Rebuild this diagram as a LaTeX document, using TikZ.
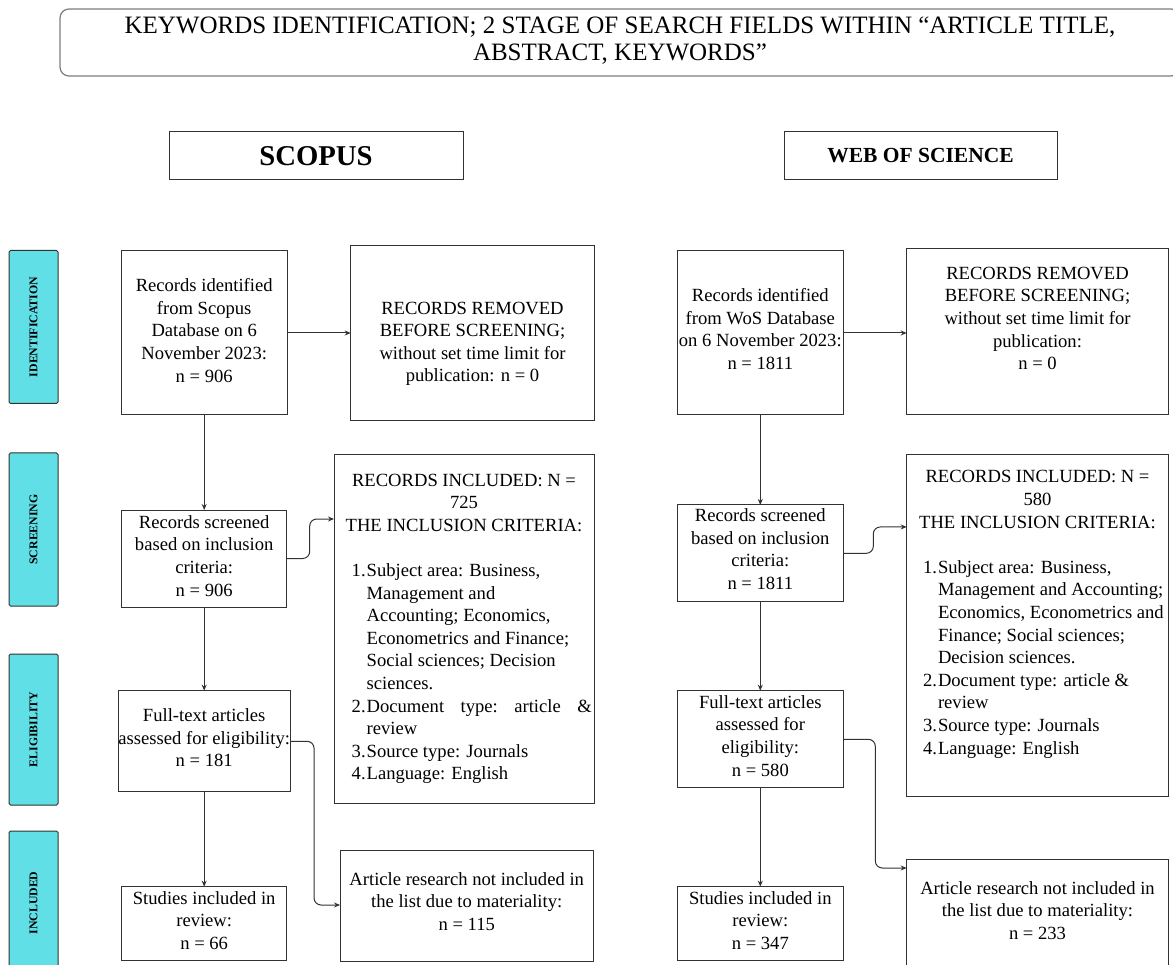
\documentclass[tikz,border=0pt]{standalone}
\usepackage{fontspec}
\setmainfont{Liberation Serif}
\usetikzlibrary{arrows.meta,calc}
\definecolor{sidecyan}{RGB}{96,224,230}
\definecolor{edgecol}{RGB}{50,50,50}
\definecolor{titleedge}{RGB}{125,125,125}
\newcommand\bt[4]{\parbox[c][#2][t]{#1}{\centering\vspace*{\dimexpr#3-15.82pt\relax}\strut#4\par}}
\newcommand\li[3]{\par\noindent\hspace*{#1}\makebox[15pt][l]{#2}#3}
\newcommand\lc[2]{\par\noindent\hspace*{#1}#2}
\begin{document}
\begin{tikzpicture}[x=1pt,y=-1pt,
  box/.style={draw=edgecol, line width=1pt, inner sep=0pt, outer sep=0pt, font=\fontsize{18.6}{22.6}\selectfont},
  side/.style={draw=edgecol, fill=sidecyan, line width=1pt, rounded corners=1.5pt, rotate=90, inner sep=0pt, font=\fontsize{11.8}{13}\selectfont\bfseries},
  arr/.style={draw=edgecol, line width=1pt, -{Stealth[length=6pt,width=5pt]}}]
\useasboundingbox (0,0) rectangle (1173,965);

% title
\node[draw=titleedge, rounded corners=9pt, line width=1.2pt, inner sep=0pt, font=\fontsize{25}{27.5}\selectfont] (title) at (620,42.5) {\parbox[c][67pt][t]{1120pt}{\centering\vspace*{5pt}\strut KEYWORDS IDENTIFICATION; 2 STAGE OF SEARCH FIELDS WITHIN “ARTICLE TITLE,\\ABSTRACT, KEYWORDS”\par}};

\node[box, minimum width=294pt, minimum height=48pt, font=\fontsize{28.7}{30}\selectfont\bfseries] (scopus) at (316,156) {SCOPUS};
\node[box, minimum width=273pt, minimum height=48pt, font=\fontsize{21.5}{24}\selectfont\bfseries] (wos) at (920.5,156) {WEB OF SCIENCE};

% side labels
\node[side, minimum width=153pt, minimum height=49pt] (sident) at (33.5,327) {IDENTIFICATION};
\node[side, minimum width=153pt, minimum height=49pt] (sscreen) at (33.5,529.5) {SCREENING};
\node[side, minimum width=151pt, minimum height=49pt] (selig) at (33.5,729.5) {ELIGIBILITY};
\node[side, minimum width=144pt, minimum height=49pt] (sincl) at (33.5,903) {INCLUDED};

% Scopus column
\node[box] (A1) at (204.2,333) {\bt{166pt}{164pt}{40.7pt}{Records identified\\from Scopus\\Database on 6\\November 2023:\\n = 906}};
\node[box] (A2) at (472.5,333.3) {\bt{243.6pt}{175.3pt}{68.5pt}{RECORDS REMOVED\\BEFORE SCREENING;\\without set time limit for\\publication: n = 0}};
\node[box] (A3) at (204.2,558.5) {\bt{165pt}{97pt}{18.3pt}{Records screened\\based on inclusion\\criteria:\\n = 906}};
\node[box] (A4) at (464,629) {\bt{260pt}{348pt}{31pt}{RECORDS INCLUDED: N =\\725\\THE INCLUSION CRITERIA:\\\strut\par\raggedright
  \li{17.7pt}{1.}{Subject area: Business,}
  \lc{32.7pt}{Management and}
  \lc{32.7pt}{Accounting; Economics,}
  \lc{32.7pt}{Econometrics and Finance;}
  \lc{32.7pt}{Social sciences; Decision}
  \lc{32.7pt}{sciences.}
  \li{17.7pt}{2.}{\makebox[225pt][s]{Document\hfill type:\hfill article\hfill\&}}
  \lc{32.7pt}{review}
  \li{17.7pt}{3.}{Source type: Journals}
  \li{17.7pt}{4.}{Language: English}}};
\node[box] (A5) at (204.2,741.3) {\bt{171.7pt}{101.3pt}{31pt}{Full-text articles\\assessed for eligibility:\\n = 181}};
\node[box] (A6) at (204.2,923.8) {\bt{165pt}{74.3pt}{17.6pt}{Studies included in\\review:\\n = 66}};
\node[box] (A7) at (466.7,905.5) {\bt{253.3pt}{111pt}{35pt}{Article research not included in\\the list due to materiality:\\n = 115}};

% WoS column
\node[box] (B1) at (760.3,333) {\bt{166pt}{164pt}{50.7pt}{Records identified\\from WoS Database\\on 6 November 2023:\\n = 1811}};
\node[box] (B2) at (1037.5,332) {\bt{261.6pt}{166pt}{30.3pt}{RECORDS REMOVED\\BEFORE SCREENING;\\without set time limit for\\publication:\\n = 0}};
\node[box] (B3) at (760.3,553.3) {\bt{166pt}{96.7pt}{16.7pt}{Records screened\\based on inclusion\\criteria:\\n = 1811}};
\node[box] (B4) at (1037.5,625.8) {\bt{261.6pt}{341.7pt}{28pt}{RECORDS INCLUDED: N =\\580\\THE INCLUSION CRITERIA:\\\strut\par\raggedright
  \li{16.3pt}{1.}{Subject area: Business,}
  \lc{31.3pt}{Management and Accounting;}
  \lc{31.3pt}{Economics, Econometrics and}
  \lc{31.3pt}{Finance; Social sciences;}
  \lc{31.3pt}{Decision sciences.}
  \li{16.3pt}{2.}{Document type: article \&}
  \lc{31.3pt}{review}
  \li{16.3pt}{3.}{Source type: Journals}
  \li{16.3pt}{4.}{Language: English}}};
\node[box] (B5) at (760.3,739.3) {\bt{166pt}{97.3pt}{17.6pt}{Full-text articles\\assessed for\\eligibility:\\n = 580}};
\node[box] (B6) at (760.3,923.8) {\bt{166pt}{74.3pt}{17.6pt}{Studies included in\\review:\\n = 347}};
\node[box] (B7) at (1037.5,917) {\bt{261.6pt}{116pt}{35.3pt}{Article research not included in\\the list due to materiality:\\n = 233}};

% connectors Scopus
\draw[arr] (A1.east) -- (A2.west |- A1.east);
\draw[arr] (A1.south) -- (A3.north);
\draw[arr, rounded corners=7pt] (A3.east) -- ++(23,0) |- ([yshift=-64pt]A4.north west);
\draw[arr] (A3.south) -- (A5.north);
\draw[arr] (A5.south) -- (A6.north);
\draw[arr, rounded corners=7pt] (A5.east) -- ++(24,0) |- ([yshift=-55pt]A7.north west);

% connectors WoS
\draw[arr] (B1.east) -- (B2.west |- B1.east);
\draw[arr] (B1.south) -- (B3.north);
\draw[arr, rounded corners=7pt] (B3.east) -- ++(30,0) |- ([yshift=-72pt]B4.north west);
\draw[arr] (B3.south) -- (B5.north);
\draw[arr] (B5.south) -- (B6.north);
\draw[arr, rounded corners=7pt] (B5.east) -- ++(32,0) |- ([yshift=-9pt]B7.north west);
\end{tikzpicture}
\end{document}
